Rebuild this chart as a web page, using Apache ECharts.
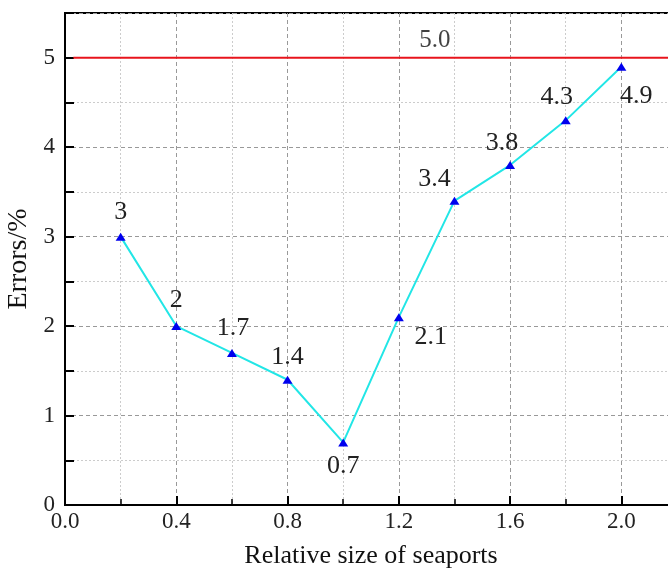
<!DOCTYPE html>
<html><head><meta charset="utf-8">
<script src="https://cdn.jsdelivr.net/npm/echarts@6/dist/echarts.min.js"></script>
<style>html,body{margin:0;padding:0;background:#fff}#c{width:668px;height:572px}</style>
</head><body><div id="c"></div>
<script>
var sizes = [0.2, 0.4, 0.6, 0.8, 1.0, 1.2, 1.4, 1.6, 1.8, 2.0];
var errors = [3, 2, 1.7, 1.4, 0.7, 2.1, 3.4, 3.8, 4.3, 4.9];
var errorLabels = ['3', '2', '1.7', '1.4', '0.7', '2.1', '3.4', '3.8', '4.3', '4.9'];
var limitX = [0.03, 2.2];
var limitY = [5, 5];
var limitLabelX = [1.33];
var limitLabel = ['5.0'];

// label layout (style only)
var labelOffsets = [[0,-24],[0,-26],[1,-25],[0,-23],[0,24],[32,20],[-20,-22],[-8,-22],[-9,-23],[15,29]];

var serif = 'Liberation Serif, Times New Roman, serif';
var chart = echarts.init(document.getElementById('c'));
chart.setOption({
  animation: false,
  grid: { left: 65, right: -9, top: 13, bottom: 67, outerBoundsMode: 'none', containLabel: false,
          show: true, borderColor: '#000', borderWidth: 2, backgroundColor: 'transparent' },
  xAxis: {
    type: 'value', min: 0, max: 2.2, interval: 0.4,
    name: 'Relative size of seaports', nameLocation: 'middle', nameGap: 38,
    nameTextStyle: { fontFamily: serif, fontSize: 26, color: '#111' },
    axisLine: { show: true, onZero: false, lineStyle: { color: '#000', width: 2 } },
    axisTick: { show: true, inside: true, length: 9, lineStyle: { color: '#000', width: 2 } },
    minorTick: { show: true, splitNumber: 2, length: 6, lineStyle: { color: '#000', width: 1.5 } },
    axisLabel: { fontFamily: serif, fontSize: 23, color: '#222', margin: 5, showMaxLabel: false,
                 formatter: function (v) { return v > 2.1 ? '' : v.toFixed(1); } },
    splitLine: { show: true, lineStyle: { color: '#999', type: [4, 3], width: 1 } },
    minorSplitLine: { show: true, lineStyle: { color: '#ccc', type: [2, 2], width: 1 } }
  },
  yAxis: {
    type: 'value', min: 0, max: 5.5, interval: 1,
    name: 'Errors/%', nameLocation: 'middle', nameGap: 28,
    nameTextStyle: { fontFamily: serif, fontSize: 28, color: '#111' },
    axisLine: { show: true, lineStyle: { color: '#000', width: 2 } },
    axisTick: { show: true, inside: true, length: 9, lineStyle: { color: '#000', width: 2 } },
    minorTick: { show: true, splitNumber: 2, length: 9, lineStyle: { color: '#000', width: 2 } },
    axisLabel: { fontFamily: serif, fontSize: 23, color: '#222', margin: 10, showMaxLabel: false,
                 formatter: function (v) { return v > 5.1 ? '' : String(v); } },
    splitLine: { show: true, lineStyle: { color: '#999', type: [4, 3], width: 1 } },
    minorSplitLine: { show: true, lineStyle: { color: '#ccc', type: [2, 2], width: 1 } }
  },
  series: [
    {
      type: 'line', z: 3,
      data: limitX.map(function (x, i) { return [x, limitY[i]]; }),
      symbol: 'none',
      lineStyle: { color: '#e8141c', width: 2 }
    },
    {
      type: 'scatter', z: 4,
      data: limitLabelX.map(function (x, i) { return { value: [x, limitY[0]], label: { formatter: limitLabel[i] } }; }),
      symbolSize: 0,
      label: { show: true, position: 'inside', offset: [0, -17], fontFamily: serif, fontSize: 25, color: '#111' }
    },
    {
      type: 'line', z: 5,
      data: sizes.map(function (x, i) {
        return { value: [x, errors[i]], label: { formatter: errorLabels[i], offset: labelOffsets[i] } };
      }),
      symbol: 'triangle', symbolSize: [10, 8],
      itemStyle: { color: '#0000ee' },
      lineStyle: { color: '#22e6e6', width: 2 },
      label: { show: true, position: 'inside', fontFamily: serif, fontSize: 26, color: '#222' }
    }
  ]
});
</script></body></html>
